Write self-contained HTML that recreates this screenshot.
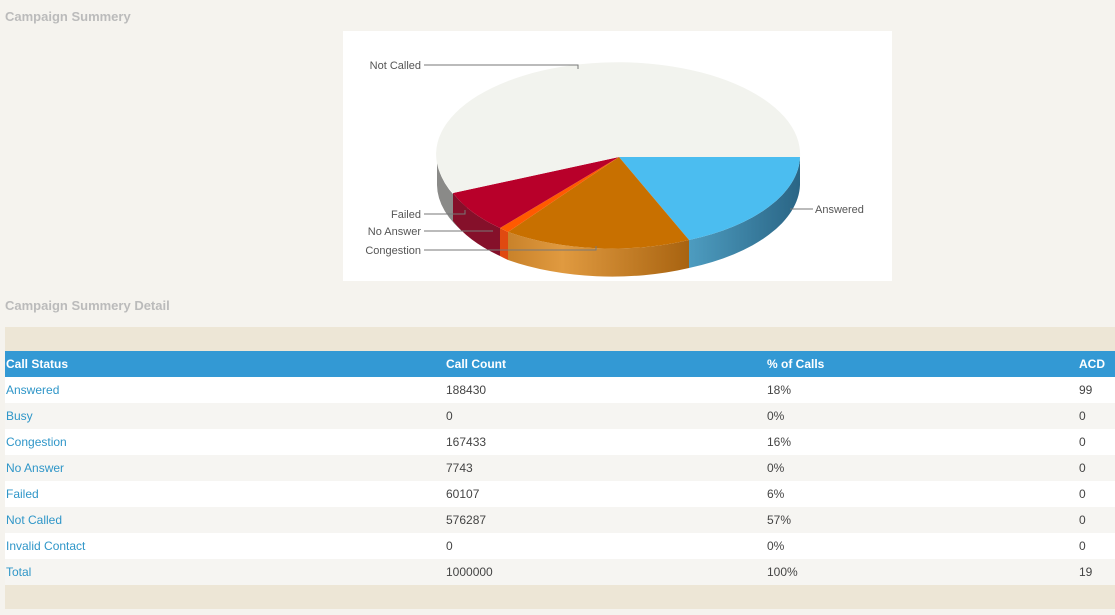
<!DOCTYPE html>
<html><head><style>
body{margin:0;width:1115px;height:615px;background:#f5f3ee;font-family:"Liberation Sans",sans-serif;position:relative;overflow:hidden}
.t{position:absolute;left:5px;font-size:13px;font-weight:bold;color:#bbb}
table{position:absolute;left:5px;top:327px;width:1110px;border-collapse:collapse;font-size:12px}
td{height:26px;padding:0 0 0 1px;color:#444}
tr.band td{background:#ede6d6;height:24px}
tr.h td{background:#3399d4;color:#fff;font-weight:bold}
tr.w td{background:#fff}tr.g td{background:#f6f5f2}
td.l{color:#2f96c8}
</style></head><body>
<div class="t" style="top:9px">Campaign Summery</div>
<div class="t" style="top:298px">Campaign Summery Detail</div>
<svg style="position:absolute;left:343px;top:31px" width="549" height="250" viewBox="343 31 549 250">
<defs>
<linearGradient id="cg" x1="0" x2="1"><stop offset="0" stop-color="#c9822a"/><stop offset=".3" stop-color="#e09a40"/><stop offset="1" stop-color="#a86310"/></linearGradient>
<linearGradient id="ag" x1="0" x2="1"><stop offset="0" stop-color="#4d9cc0"/><stop offset="1" stop-color="#2a6585"/></linearGradient>
</defs>
<rect x="343" y="31" width="549" height="250" fill="#fff"/>
<!-- sides -->
<path d="M437,157 A182,92 0 0 0 467,207 L467,235 A182,92 0 0 1 437,185Z" fill="#8a8a88"/>
<path d="M453,193 A182,92 0 0 0 500,228 L500,256 A182,92 0 0 1 453,221Z" fill="#85102a"/>
<path d="M500,228 A182,92 0 0 0 508,232 L508,260 A182,92 0 0 1 500,256Z" fill="#e04a10"/>
<path d="M508,232 A182,92 0 0 0 689,240 L689,268 A182,92 0 0 1 508,260Z" fill="url(#cg)"/>
<path d="M689,240 A182,92 0 0 0 800,157 L800,185 A182,92 0 0 1 689,268Z" fill="url(#ag)"/>
<!-- tops -->
<path d="M619,157 L800,157 A182,92 0 0 1 689,240Z" fill="#4bbdf0"/>
<path d="M619,157 L689,240 A182,92 0 0 1 508,232Z" fill="#c87000"/>
<path d="M619,157 L508,232 A182,92 0 0 1 500,228Z" fill="#ff5a00"/>
<path d="M619,157 L500,228 A182,92 0 0 1 453,193Z" fill="#b8002a"/>
<path d="M619,157 L453,193 A182,92 0 1 1 800,157Z" fill="#f2f3ee"/>
<g stroke="#777" fill="none" stroke-width="1">
<path d="M424,65 H578 V69"/><path d="M424,214 H465 V210"/><path d="M424,231 H493"/><path d="M424,250 H596 V246"/><path d="M790,209 H813"/>
</g>
<g font-size="11" fill="#555">
<text x="421" y="69" text-anchor="end">Not Called</text>
<text x="421" y="218" text-anchor="end">Failed</text>
<text x="421" y="235" text-anchor="end">No Answer</text>
<text x="421" y="254" text-anchor="end">Congestion</text>
<text x="815" y="213">Answered</text>
</g>
</svg>
<table>
<colgroup><col style="width:440px"><col style="width:321px"><col style="width:312px"><col></colgroup>
<tr class="band"><td colspan="4"></td></tr>
<tr class="h"><td>Call Status</td><td>Call Count</td><td>% of Calls</td><td>ACD</td></tr>
<tr class="w"><td class="l">Answered</td><td>188430</td><td>18%</td><td>99</td></tr>
<tr class="g"><td class="l">Busy</td><td>0</td><td>0%</td><td>0</td></tr>
<tr class="w"><td class="l">Congestion</td><td>167433</td><td>16%</td><td>0</td></tr>
<tr class="g"><td class="l">No Answer</td><td>7743</td><td>0%</td><td>0</td></tr>
<tr class="w"><td class="l">Failed</td><td>60107</td><td>6%</td><td>0</td></tr>
<tr class="g"><td class="l">Not Called</td><td>576287</td><td>57%</td><td>0</td></tr>
<tr class="w"><td class="l">Invalid Contact</td><td>0</td><td>0%</td><td>0</td></tr>
<tr class="g"><td class="l">Total</td><td>1000000</td><td>100%</td><td>19</td></tr>
<tr class="band"><td colspan="4"></td></tr>
</table>
</body></html>
